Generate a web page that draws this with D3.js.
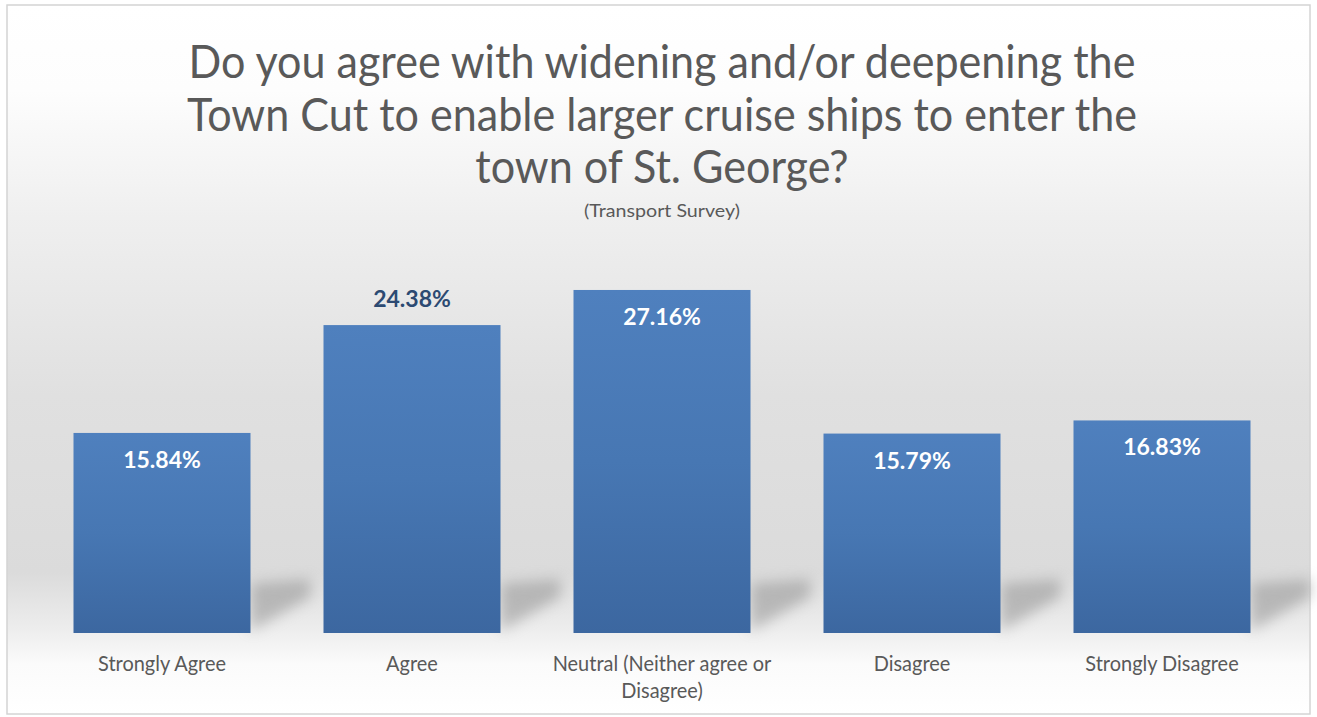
<!DOCTYPE html>
<html>
<head>
<meta charset="utf-8">
<script src="https://cdn.jsdelivr.net/npm/d3@7"></script>
<style>
  html, body { margin: 0; padding: 0; background: #ffffff; }
  svg { display: block; }
</style>
</head>
<body>
<svg id="chart" width="1317" height="717"></svg>
<script>
// ---- data ----
const categories = ["Strongly Agree", "Agree", "Neutral (Neither agree or Disagree)", "Disagree", "Strongly Disagree"];
const categoryLines = [["Strongly Agree"], ["Agree"], ["Neutral (Neither agree or", "Disagree)"], ["Disagree"], ["Strongly Disagree"]];
const values = [15.84, 24.38, 27.16, 15.79, 16.83];
const valueLabels = ["15.84%", "24.38%", "27.16%", "15.79%", "16.83%"];
const outsideLabelCategories = ["Agree"];
const titleLines = ["Do you agree with widening and/or deepening the", "Town Cut to enable larger cruise ships to enter the", "town of St. George?"];
const subtitle = "(Transport Survey)";

// ---- layout ----
const svg = d3.select("#chart");
const defs = svg.append("defs");

const bg = defs.append("linearGradient").attr("id", "bg").attr("x1", 0).attr("y1", 0).attr("x2", 0).attr("y2", 1);
[[0, "#ffffff"], [0.12, "#fdfdfd"], [0.3, "#efefef"], [0.55, "#e0e0e0"], [0.8, "#dbdbdb"], [0.88, "#ededed"], [0.93, "#fbfbfb"], [1, "#ffffff"]]
  .forEach(([o, c]) => bg.append("stop").attr("offset", o).attr("stop-color", c));

const barGrad = defs.append("linearGradient").attr("id", "barGrad").attr("x1", 0).attr("y1", 0).attr("x2", 0).attr("y2", 1);
[[0, "#4f80be"], [0.5, "#4777b3"], [1, "#3c67a0"]]
  .forEach(([o, c]) => barGrad.append("stop").attr("offset", o).attr("stop-color", c));

const blur = defs.append("filter").attr("id", "blur").attr("x", "-50%").attr("y", "-50%").attr("width", "200%").attr("height", "200%");
blur.append("feGaussianBlur").attr("stdDeviation", 7);

svg.append("rect").attr("x", 7).attr("y", 5).attr("width", 1303).attr("height", 709)
  .attr("fill", "url(#bg)").attr("stroke", "#d4d4d4").attr("stroke-width", 1.5);

// horizontal fit helper (mimics the condensed original face)
function fitWidth(sel, cx, target) {
  const len = sel.node().getComputedTextLength();
  const k = target / len;
  sel.attr("transform", `translate(${cx},0) scale(${k},1) translate(${-cx},0)`);
  return k;
}

// ---- title ----
const titleBaselines = [78, 131, 183];
const titleTexts = titleLines.map((t, i) =>
  svg.append("text")
    .attr("x", 662).attr("y", titleBaselines[i])
    .attr("text-anchor", "middle")
    .attr("font-family", "Lato, 'Open Sans', sans-serif")
    .attr("font-weight", 400)
    .attr("font-size", 47)
    .attr("fill", "#595959")
    .text(t));
const k = fitWidth(titleTexts[0], 662, 947);
titleTexts.slice(1).forEach(t => t.attr("transform", `translate(662,0) scale(${k},1) translate(-662,0)`));

const sub = svg.append("text")
  .attr("x", 662).attr("y", 217)
  .attr("text-anchor", "middle")
  .attr("font-family", "Lato, 'Open Sans', sans-serif")
  .attr("font-size", 17)
  .attr("fill", "#595959")
  .text(subtitle);
fitWidth(sub, 662, 156);

// ---- scales ----
const x = d3.scaleBand().domain(categories).range([37, 1287]).paddingInner(0.292).paddingOuter(0.146);
const y = d3.scaleLinear().domain([0, 30]).range([633, 633 - 30 * 12.63]);

// shadows
svg.append("g").selectAll("path").data(categories).join("path")
  .attr("d", c => {
    const r = x(c) + x.bandwidth();
    const b = y(0);
    return `M${r},${b - 2} L${r},${b - 50} L${r + 60},${b - 54} L${r + 60},${b - 36} Z`;
  })
  .attr("fill", "#8a8a8a")
  .attr("opacity", 0.5)
  .attr("filter", "url(#blur)");

// bars
svg.append("g").selectAll("rect").data(categories).join("rect")
  .attr("x", c => x(c))
  .attr("width", x.bandwidth())
  .attr("y", (c, i) => y(values[i]))
  .attr("height", (c, i) => y(0) - y(values[i]))
  .attr("fill", "url(#barGrad)");

// value labels
svg.append("g").selectAll("text").data(categories).join("text")
  .attr("x", c => x(c) + x.bandwidth() / 2)
  .attr("y", (c, i) => outsideLabelCategories.includes(c) ? y(values[i]) - 18 : y(values[i]) + 35)
  .attr("text-anchor", "middle")
  .attr("font-family", "Lato, 'Open Sans', sans-serif")
  .attr("font-weight", 700)
  .attr("font-size", 23)
  .attr("fill", c => outsideLabelCategories.includes(c) ? "#2c4a72" : "#ffffff")
  .text((c, i) => valueLabels[i]);

// category labels (axis)
const xAxis = d3.axisBottom(x).tickSize(0).tickFormat("");
const axisG = svg.append("g").attr("transform", `translate(0,${y(0)})`).call(xAxis);
axisG.select(".domain").remove();
axisG.selectAll(".tick").each(function (c, i) {
  const t = d3.select(this).append("text")
    .attr("text-anchor", "middle")
    .attr("font-family", "Lato, 'Open Sans', sans-serif")
    .attr("font-size", 21)
    .attr("fill", "#595959")
    .attr("transform", "scale(0.95,1)");
  categoryLines[i].forEach((line, j) => {
    t.append("tspan").attr("x", 0).attr("y", 38 + j * 27).text(line);
  });
});
</script>
</body>
</html>
